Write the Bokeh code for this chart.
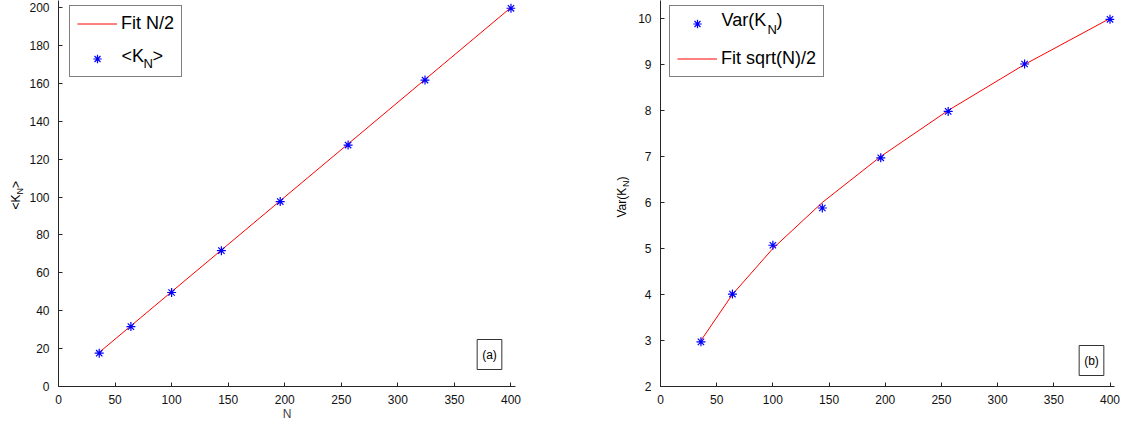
import math
from bokeh.plotting import figure
from bokeh.layouts import row
from bokeh.models import (Range1d, SingleIntervalTicker, Legend, LegendItem, Label)
from bokeh.embed import file_html
from bokeh.resources import INLINE

# ---- data ----
N_values = [36, 64, 100, 144, 196, 256, 324, 400]
mean_K = [17.6, 31.6, 49.6, 71.7, 97.6, 127.4, 161.7, 199.6]
fit_mean = [18, 32, 50, 72, 98, 128, 162, 200]
var_K = [2.97, 4.01, 5.07, 5.88, 6.97, 7.98, 9.01, 9.98]
fit_var = [3, 4, 5, 6, 7, 8, 9, 10]

FONT = "Liberation Sans"
AX_COLOR = "#262626"
RED = "#ff0000"
BLUE = "#0000ff"
FRAME_H = 386
TOTAL_H = 418


def style_axes(p, xlabel=None):
    p.xgrid.visible = False
    p.ygrid.visible = False
    p.outline_line_color = None
    for ax in (p.xaxis[0], p.yaxis[0]):
        ax.axis_line_color = AX_COLOR
        ax.major_tick_line_color = AX_COLOR
        ax.major_tick_in = 4
        ax.major_tick_out = 0
        ax.minor_tick_line_color = None
        ax.major_label_text_font = FONT
        ax.major_label_text_font_size = "12px"
        ax.major_label_text_color = "#111111"
    p.xaxis[0].major_label_standoff = 4
    p.yaxis[0].major_label_standoff = 5
    if xlabel:
        p.xaxis[0].axis_label = xlabel
        p.xaxis[0].axis_label_text_font = FONT
        p.xaxis[0].axis_label_text_font_size = "12px"
        p.xaxis[0].axis_label_text_font_style = "normal"
        p.xaxis[0].axis_label_standoff = 0


def txt(p, x, y, t, size, angle=0.0, align="left", baseline="middle", **kw):
    lab = Label(x=x, y=y, x_units="screen", y_units="screen", text=t,
                angle=angle, text_align=align, text_baseline=baseline,
                text_font=FONT, text_font_size=size, text_color="#000000", **kw)
    p.add_layout(lab)
    return lab


def make_legend(p, items, loc):
    leg = Legend(items=items, location=loc, label_text_font=FONT,
                 label_text_font_size="18px", label_text_color="#000000",
                 glyph_width=40, glyph_height=21, label_height=21,
                 label_standoff=4, padding=7, spacing=14, margin=0,
                 border_line_color="#000000", border_line_width=1,
                 background_fill_color="#ffffff", background_fill_alpha=0.0)
    p.add_layout(leg, "center")
    return leg


def label_strip(width):
    f = figure(width=width, height=TOTAL_H, title=None,
               x_range=Range1d(0, 1), y_range=Range1d(0, 1),
               x_axis_location=None, y_axis_location=None,
               output_backend="svg", toolbar_location=None,
               min_border=0)
    f.xgrid.visible = False
    f.ygrid.visible = False
    f.outline_line_color = None
    return f


# ---- y label strip for (a) ----
lf1 = label_strip(26)
txt(lf1, 15, 172, "<K", "12px", angle=math.pi / 2)
txt(lf1, 19, 187, "N", "9px", angle=math.pi / 2)
txt(lf1, 15, 193.5, ">", "12px", angle=math.pi / 2)

# ---- panel (a) ----
p1 = figure(frame_width=457, frame_height=FRAME_H, title=None,
            x_range=Range1d(0, 404), y_range=Range1d(0, 203.7),
            output_backend="svg", toolbar_location=None,
            min_border_left=31, min_border_right=50,
            min_border_top=0, min_border_bottom=TOTAL_H - FRAME_H)
p1.xaxis.ticker = SingleIntervalTicker(interval=50)
p1.yaxis.ticker = SingleIntervalTicker(interval=20)
style_axes(p1, "N")

l1 = p1.line(N_values, fit_mean, line_color=RED, line_width=1)
s1 = p1.scatter(N_values, mean_K, marker="asterisk", size=9,
                line_color=BLUE, line_width=1.2)
make_legend(p1, [LegendItem(label="Fit N/2", renderers=[l1]),
                 LegendItem(label=" ", renderers=[s1])], (11, 309))
txt(p1, 63, 331, "<K", "18px")
txt(p1, 85, 323, "N", "13px")
txt(p1, 94, 331, ">", "18px")
txt(p1, 431, 32, "(a)", "12px", align="center",
    border_line_color="#333333", background_fill_color="#ffffff", padding=(5, 8))

# ---- y label strip for (b) ----
lf2 = label_strip(70)
txt(lf2, 56, 164, "Var(K", "12px", angle=math.pi / 2)
txt(lf2, 60, 194.5, "N", "9px", angle=math.pi / 2)
txt(lf2, 56, 201, ")", "12px", angle=math.pi / 2)

# ---- panel (b) ----
p2 = figure(frame_width=454, frame_height=FRAME_H, title=None,
            x_range=Range1d(0, 404), y_range=Range1d(2, 10.39),
            output_backend="svg", toolbar_location=None,
            min_border_left=25, min_border_right=7,
            min_border_top=0, min_border_bottom=TOTAL_H - FRAME_H)
p2.xaxis.ticker = SingleIntervalTicker(interval=50)
p2.yaxis.ticker = SingleIntervalTicker(interval=1)
style_axes(p2)

l2 = p2.line(N_values, fit_var, line_color=RED, line_width=1)
s2 = p2.scatter(N_values, var_K, marker="asterisk", size=9,
                line_color=BLUE, line_width=1.2)
make_legend(p2, [LegendItem(label=" ", renderers=[s2]),
                 LegendItem(label="Fit sqrt(N)/2", renderers=[l2])], (9, 309))
txt(p2, 61, 367, "Var(K", "18px")
txt(p2, 107, 357, "N", "13px")
txt(p2, 116, 367, ")", "18px")
txt(p2, 431, 26, "(b)", "12px", align="center",
    border_line_color="#333333", background_fill_color="#ffffff", padding=(5, 8))

layout = row(lf1, p1, lf2, p2)

open("out.html", "w").write(file_html(layout, INLINE))
